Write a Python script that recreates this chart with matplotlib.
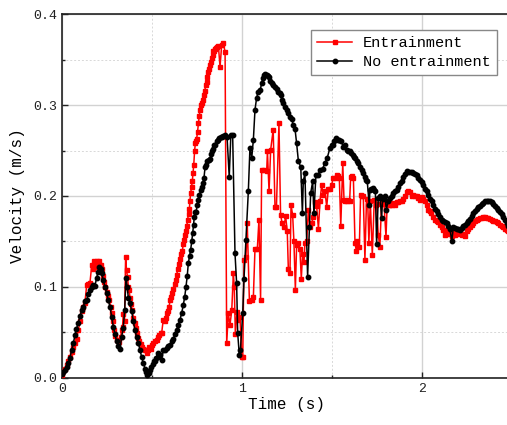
import matplotlib
matplotlib.use("Agg")
import matplotlib.pyplot as plt
from matplotlib.ticker import MultipleLocator, FormatStrFormatter

# ---- data: Entrainment (red) ----
t_ent = [0.0, 0.007, 0.016, 0.026, 0.035, 0.044, 0.053, 0.063, 0.072, 0.081, 0.09, 0.1, 0.109, 0.118, 0.127,
         0.137, 0.146, 0.155, 0.165, 0.172, 0.178, 0.185, 0.192, 0.2, 0.207, 0.214, 0.22, 0.227, 0.233, 0.24,
         0.248, 0.255, 0.263, 0.27, 0.276, 0.283, 0.289, 0.296, 0.303, 0.31, 0.318, 0.325, 0.331, 0.336, 0.34,
         0.347, 0.353, 0.358, 0.364, 0.368, 0.372, 0.378, 0.383, 0.39, 0.396, 0.404, 0.411, 0.418, 0.424, 0.43,
         0.437, 0.444, 0.451, 0.459, 0.466, 0.472, 0.479, 0.485, 0.492, 0.5, 0.507, 0.516, 0.525, 0.533, 0.54,
         0.547, 0.553, 0.562, 0.572, 0.578, 0.584, 0.589, 0.594, 0.6, 0.605, 0.611, 0.618, 0.625, 0.631, 0.637,
         0.642, 0.648, 0.655, 0.661, 0.668, 0.673, 0.679, 0.684, 0.688, 0.693, 0.697, 0.702, 0.707, 0.71, 0.714,
         0.719, 0.723, 0.727, 0.731, 0.736, 0.74, 0.744, 0.747, 0.752, 0.757, 0.762, 0.766, 0.772, 0.779, 0.784,
         0.788, 0.793, 0.797, 0.802, 0.807, 0.812, 0.818, 0.822, 0.827, 0.832, 0.836, 0.84, 0.845, 0.85, 0.855,
         0.862, 0.868, 0.877, 0.886, 0.895, 0.905, 0.914, 0.923, 0.932, 0.942, 0.951, 0.956, 0.962, 0.971,
         0.979, 0.988, 0.997, 1.003, 1.01, 1.021, 1.028, 1.04, 1.053, 1.062, 1.071, 1.084, 1.093, 1.102, 1.108,
         1.121, 1.136, 1.14, 1.149, 1.158, 1.172, 1.182, 1.19, 1.204, 1.213, 1.222, 1.232, 1.241, 1.25, 1.256,
         1.265, 1.271, 1.28, 1.287, 1.295, 1.302, 1.311, 1.32, 1.328, 1.335, 1.343, 1.348, 1.358, 1.367, 1.376,
         1.385, 1.395, 1.404, 1.413, 1.423, 1.432, 1.441, 1.45, 1.459, 1.469, 1.478, 1.487, 1.496, 1.505, 1.515,
         1.524, 1.532, 1.539, 1.547, 1.558, 1.565, 1.572, 1.58, 1.589, 1.596, 1.602, 1.61, 1.617, 1.626, 1.633,
         1.639, 1.65, 1.657, 1.665, 1.672, 1.681, 1.69, 1.697, 1.703, 1.711, 1.722, 1.733, 1.74, 1.746, 1.755,
         1.764, 1.774, 1.78, 1.787, 1.798, 1.805, 1.812, 1.82, 1.829, 1.838, 1.848, 1.857, 1.866, 1.876, 1.885,
         1.894, 1.904, 1.913, 1.922, 1.931, 1.94, 1.95, 1.959, 1.968, 1.978, 1.987, 1.996, 2.005, 2.014, 2.024,
         2.033, 2.042, 2.05, 2.06, 2.07, 2.079, 2.088, 2.098, 2.107, 2.116, 2.125, 2.135, 2.144, 2.153, 2.163,
         2.172, 2.181, 2.19, 2.2, 2.209, 2.218, 2.227, 2.237, 2.246, 2.255, 2.264, 2.274, 2.283, 2.292, 2.301,
         2.311, 2.32, 2.329, 2.339, 2.348, 2.357, 2.366, 2.375, 2.385, 2.394, 2.403, 2.412, 2.421, 2.43, 2.44,
         2.449, 2.458, 2.467, 2.476]
v_ent = [0.003, 0.007, 0.01, 0.014, 0.018, 0.023, 0.028, 0.034, 0.038, 0.043, 0.052, 0.062, 0.073, 0.078, 0.082,
         0.102, 0.103, 0.104, 0.124, 0.12, 0.128, 0.122, 0.128, 0.126, 0.128, 0.124, 0.12, 0.112, 0.105, 0.1,
         0.094, 0.09, 0.085, 0.078, 0.071, 0.062, 0.053, 0.046, 0.042, 0.04, 0.039, 0.045, 0.052, 0.056, 0.07,
         0.062, 0.133, 0.118, 0.111, 0.1, 0.096, 0.088, 0.081, 0.074, 0.066, 0.06, 0.055, 0.049, 0.044, 0.04,
         0.037, 0.034, 0.032, 0.03, 0.03, 0.027, 0.03, 0.034, 0.032, 0.036, 0.038, 0.04, 0.042, 0.045, 0.047,
         0.049, 0.049, 0.064, 0.062, 0.066, 0.071, 0.073, 0.078, 0.085, 0.089, 0.093, 0.098, 0.103, 0.107, 0.113,
         0.12, 0.125, 0.131, 0.136, 0.14, 0.147, 0.152, 0.157, 0.161, 0.167, 0.174, 0.18, 0.186, 0.195, 0.203,
         0.21, 0.216, 0.225, 0.234, 0.25, 0.258, 0.26, 0.263, 0.27, 0.28, 0.288, 0.295, 0.3, 0.302, 0.306,
         0.311, 0.316, 0.322, 0.326, 0.331, 0.336, 0.34, 0.344, 0.348, 0.352, 0.355, 0.36, 0.36, 0.362, 0.363,
         0.364, 0.365, 0.342, 0.366, 0.368, 0.359, 0.038, 0.071, 0.058, 0.074, 0.115, 0.1, 0.048, 0.072,
         0.064, 0.067, 0.023, 0.023, 0.13, 0.133, 0.17, 0.084, 0.085, 0.089, 0.142, 0.142, 0.174, 0.086, 0.229,
         0.229, 0.227, 0.249, 0.205, 0.251, 0.273, 0.188, 0.188, 0.28, 0.179, 0.17, 0.166, 0.178, 0.161, 0.12,
         0.115, 0.19, 0.179, 0.15, 0.097, 0.146, 0.148, 0.142, 0.109, 0.136, 0.127, 0.148, 0.15, 0.185, 0.166,
         0.17, 0.177, 0.193, 0.189, 0.164, 0.195, 0.212, 0.201, 0.206, 0.188, 0.208, 0.208, 0.212, 0.22, 0.22,
         0.223, 0.222, 0.22, 0.167, 0.236, 0.196, 0.195, 0.194, 0.196, 0.194, 0.221, 0.222, 0.22, 0.148, 0.14,
         0.15, 0.144, 0.201, 0.2, 0.2, 0.13, 0.197, 0.19, 0.148, 0.194, 0.135, 0.196, 0.19, 0.191, 0.157,
         0.144, 0.196, 0.192, 0.191, 0.155, 0.193, 0.19, 0.19, 0.19, 0.192, 0.19, 0.193, 0.193, 0.195, 0.195,
         0.197, 0.2, 0.204, 0.205, 0.204, 0.2, 0.201, 0.2, 0.2, 0.198, 0.196, 0.199, 0.197, 0.194, 0.19,
         0.185, 0.183, 0.181, 0.177, 0.174, 0.172, 0.171, 0.168, 0.166, 0.163, 0.157, 0.163, 0.158, 0.16, 0.156,
         0.163, 0.157, 0.16, 0.158, 0.16, 0.157, 0.158, 0.156, 0.162, 0.164, 0.166, 0.168, 0.17, 0.172, 0.174,
         0.175, 0.176, 0.176, 0.177, 0.177, 0.176, 0.176, 0.175, 0.174, 0.173, 0.172, 0.171, 0.17, 0.168, 0.167,
         0.166, 0.164, 0.163, 0.161]

# ---- data: No entrainment (black) ----
t_no = [0.0, 0.008, 0.016, 0.025, 0.035, 0.044, 0.053, 0.063, 0.072, 0.08, 0.09, 0.1, 0.109, 0.118, 0.127,
        0.137, 0.146, 0.155, 0.165, 0.174, 0.183, 0.192, 0.2, 0.207, 0.214, 0.22, 0.229, 0.238, 0.248, 0.257,
        0.266, 0.276, 0.285, 0.294, 0.303, 0.312, 0.322, 0.331, 0.34, 0.348, 0.355, 0.362, 0.368, 0.377, 0.387,
        0.396, 0.405, 0.414, 0.424, 0.433, 0.442, 0.451, 0.461, 0.468, 0.474, 0.481, 0.488, 0.496, 0.503,
        0.51, 0.516, 0.524, 0.53, 0.535, 0.543, 0.553, 0.562, 0.572, 0.58, 0.59, 0.6, 0.609, 0.618, 0.627,
        0.636, 0.645, 0.655, 0.664, 0.673, 0.681, 0.688, 0.695, 0.701, 0.708, 0.714, 0.72, 0.725, 0.73, 0.734,
        0.739, 0.744, 0.75, 0.757, 0.763, 0.77, 0.776, 0.781, 0.788, 0.794, 0.8, 0.807, 0.814, 0.822, 0.828,
        0.834, 0.84, 0.845, 0.851, 0.858, 0.865, 0.873, 0.88, 0.886, 0.895, 0.905, 0.916, 0.928, 0.937, 0.947,
        0.96, 0.969, 0.975, 0.984, 0.99, 1.003, 1.01, 1.021, 1.034, 1.043, 1.053, 1.062, 1.071, 1.08, 1.089,
        1.1, 1.108, 1.115, 1.121, 1.128, 1.136, 1.143, 1.15, 1.157, 1.164, 1.173, 1.182, 1.191, 1.2, 1.207,
        1.214, 1.221, 1.228, 1.238, 1.247, 1.256, 1.265, 1.274, 1.284, 1.293, 1.302, 1.312, 1.325, 1.334,
        1.339, 1.348, 1.363, 1.373, 1.38, 1.391, 1.398, 1.409, 1.421, 1.432, 1.446, 1.459, 1.472, 1.487, 1.496,
        1.505, 1.512, 1.52, 1.529, 1.539, 1.55, 1.561, 1.57, 1.58, 1.589, 1.598, 1.606, 1.613, 1.62, 1.626,
        1.635, 1.644, 1.653, 1.663, 1.672, 1.681, 1.688, 1.694, 1.705, 1.709, 1.717, 1.724, 1.731, 1.739,
        1.746, 1.755, 1.764, 1.774, 1.779, 1.786, 1.792, 1.8, 1.81, 1.82, 1.829, 1.838, 1.848, 1.857, 1.866,
        1.876, 1.885, 1.894, 1.904, 1.913, 1.922, 1.931, 1.94, 1.95, 1.959, 1.968, 1.978, 1.987, 1.996, 2.005,
        2.014, 2.024, 2.033, 2.042, 2.051, 2.061, 2.07, 2.079, 2.088, 2.098, 2.107, 2.116, 2.125, 2.135, 2.144,
        2.153, 2.163, 2.172, 2.181, 2.19, 2.2, 2.209, 2.218, 2.227, 2.237, 2.246, 2.255, 2.264, 2.274, 2.283,
        2.292, 2.301, 2.311, 2.32, 2.329, 2.339, 2.348, 2.357, 2.366, 2.375, 2.385, 2.393, 2.403, 2.412,
        2.421, 2.43, 2.44, 2.449, 2.458, 2.467, 2.476]
v_no = [0.004, 0.006, 0.009, 0.012, 0.016, 0.022, 0.03, 0.038, 0.047, 0.054, 0.06, 0.068, 0.074, 0.078, 0.084,
        0.086, 0.092, 0.097, 0.1, 0.102, 0.101, 0.11, 0.116, 0.122, 0.12, 0.115, 0.108, 0.1, 0.093, 0.085,
        0.078, 0.067, 0.056, 0.048, 0.04, 0.035, 0.032, 0.045, 0.055, 0.075, 0.11, 0.1, 0.088, 0.082, 0.073,
        0.062, 0.052, 0.045, 0.038, 0.03, 0.023, 0.016, 0.01, 0.006, 0.003, 0.005, 0.008, 0.012, 0.015,
        0.018, 0.018, 0.022, 0.027, 0.023, 0.025, 0.02, 0.03, 0.03, 0.033, 0.035, 0.036, 0.04, 0.043, 0.048,
        0.052, 0.058, 0.064, 0.071, 0.08, 0.089, 0.1, 0.112, 0.126, 0.134, 0.141, 0.15, 0.159, 0.168, 0.177,
        0.182, 0.182, 0.19, 0.196, 0.201, 0.207, 0.21, 0.214, 0.22, 0.232, 0.234, 0.238, 0.24, 0.241, 0.246,
        0.249, 0.252, 0.256, 0.256, 0.26, 0.262, 0.264, 0.265, 0.265, 0.266, 0.267, 0.265, 0.221, 0.267, 0.267,
        0.137, 0.104, 0.049, 0.025, 0.03, 0.071, 0.109, 0.152, 0.205, 0.253, 0.242, 0.262, 0.295, 0.308, 0.315,
        0.317, 0.324, 0.33, 0.333, 0.334, 0.333, 0.332, 0.331, 0.327, 0.324, 0.322, 0.32, 0.318, 0.315, 0.313,
        0.311, 0.306, 0.302, 0.298, 0.295, 0.291, 0.287, 0.285, 0.278, 0.274, 0.258, 0.238, 0.232, 0.181,
        0.216, 0.225, 0.111, 0.166, 0.203, 0.216, 0.181, 0.223, 0.223, 0.229, 0.23, 0.236, 0.242, 0.253, 0.256,
        0.256, 0.26, 0.264, 0.262, 0.262, 0.26, 0.254, 0.256, 0.251, 0.25, 0.249, 0.247, 0.245, 0.243, 0.242,
        0.239, 0.236, 0.232, 0.229, 0.225, 0.221, 0.218, 0.216, 0.19, 0.207, 0.208, 0.209, 0.207, 0.205,
        0.147, 0.198, 0.2, 0.176, 0.197, 0.198, 0.2, 0.185, 0.195, 0.198, 0.2, 0.203, 0.205, 0.207, 0.21,
        0.214, 0.217, 0.221, 0.224, 0.227, 0.226, 0.226, 0.226, 0.225, 0.224, 0.223, 0.22, 0.218, 0.215, 0.212,
        0.208, 0.205, 0.201, 0.197, 0.194, 0.19, 0.186, 0.183, 0.18, 0.177, 0.174, 0.172, 0.171, 0.17, 0.167,
        0.164, 0.15, 0.166, 0.165, 0.164, 0.164, 0.163, 0.165, 0.167, 0.168, 0.17, 0.172, 0.175, 0.178, 0.181,
        0.183, 0.186, 0.188, 0.189, 0.191, 0.192, 0.194, 0.194, 0.194, 0.194, 0.193, 0.191, 0.189, 0.187,
        0.185, 0.182, 0.18, 0.177, 0.174, 0.17, 0.167]

labels = ["Entrainment", "No entrainment"]
xlabel = "Time (s)"
ylabel = "Velocity (m/s)"

mono = ["Liberation Mono", "DejaVu Sans Mono"]

fig = plt.figure(figsize=(5.07, 4.25), dpi=100)
ax = fig.add_axes([62/507, 1 - 377.7/425, (510 - 62)/507, (377.7 - 14.3)/425])

ax.plot(t_ent, v_ent, color="#ff0000", lw=1.1, marker="s", ms=3.0, mec="#ff0000", mfc="#ff0000",
        label=labels[0], zorder=3)
ax.plot(t_no, v_no, color="black", lw=1.1, marker="o", ms=3.2, mec="black", mfc="black",
        label=labels[1], zorder=4)

ax.set_xlim(0, 448/180.2)
ax.set_ylim(0, 0.4)
ax.xaxis.set_major_locator(MultipleLocator(1))
ax.xaxis.set_minor_locator(MultipleLocator(0.5))
ax.yaxis.set_major_locator(MultipleLocator(0.1))
ax.yaxis.set_minor_locator(MultipleLocator(0.05))
ax.yaxis.set_major_formatter(FormatStrFormatter("%.1f"))

ax.grid(which="major", color="#d2d2d2", lw=1.0, ls="-", zorder=0)
ax.grid(which="minor", color="#d8d8d8", lw=0.7, ls=(0, (2, 2)), zorder=0)
ax.set_axisbelow(True)

ax.tick_params(which="both", direction="in", top=False, right=False, width=1, colors="#222222")
ax.tick_params(which="major", length=4, labelsize=9.5)
ax.tick_params(which="minor", length=2.5)
for lab in ax.get_xticklabels() + ax.get_yticklabels():
    lab.set_family(mono)

for s in ax.spines.values():
    s.set_linewidth(1.2)
    s.set_color("#222222")

ax.set_xlabel(xlabel, family=mono, fontsize=11.5, labelpad=2)
ax.set_ylabel(ylabel, family=mono, fontsize=11.5, labelpad=6)

leg = ax.legend(loc="upper right", bbox_to_anchor=(0, 0, 497/507, 1 - 30/425), bbox_transform=fig.transFigure,
                prop={"family": mono, "size": 11}, frameon=True, fancybox=False, framealpha=1,
                edgecolor="#888888", handlelength=2.3, borderpad=0.4, labelspacing=0.32,
                handletextpad=0.7, borderaxespad=0)
leg.get_frame().set_linewidth(1.0)

fig.savefig("out.png", dpi=100)
